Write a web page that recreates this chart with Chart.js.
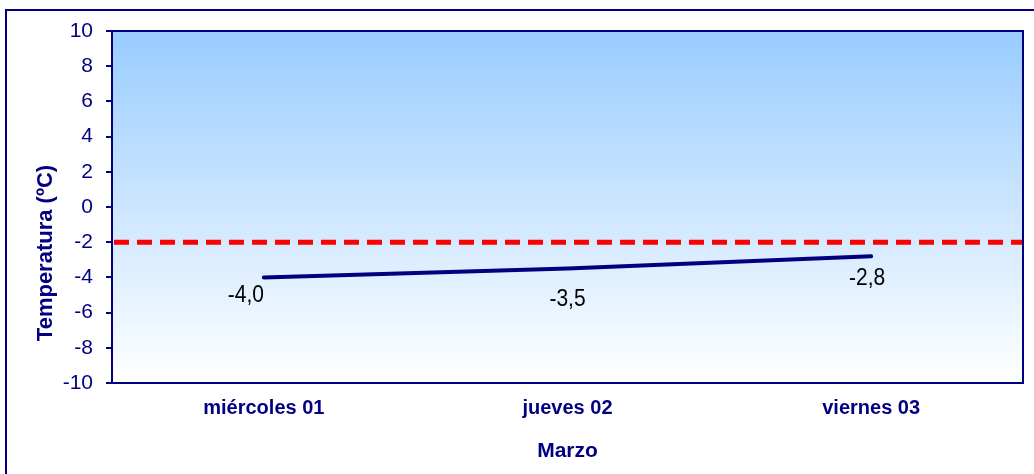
<!DOCTYPE html>
<html>
<head>
<meta charset="utf-8">
<script src="https://cdn.jsdelivr.net/npm/chart.js@4"></script>
<style>
  body { margin: 0; background: #fff; }
</style>
</head>
<body>
<canvas id="myChart" width="1034" height="474"></canvas>
<script>
    "use strict";

    // data
    const days = ['miércoles 01', 'jueves 02', 'viernes 03'];
    const temps = [-4.0, -3.5, -2.8];
    const yMin = -10;
    const yMax = 10;
    const yStep = 2;
    const threshold = -2;
    const yTitle = 'Temperatura (ºC)';

    const navy = '#000080';
    const fam = '"Liberation Sans", Arial, sans-serif';

    // background gradient, outer frame, threshold line, plot border, labels
    const decor = {
        id: 'decor',
        beforeDraw(chart) {
            const {ctx, chartArea: a} = chart;
            ctx.save();
            let g = ctx.createLinearGradient(0, a.top, 0, a.bottom);
            g.addColorStop(0, '#99ccff');
            g.addColorStop(1, '#ffffff');
            ctx.fillStyle = g;
            ctx.fillRect(a.left, a.top, a.right - a.left, a.bottom - a.top);
            // outer frame (runs off right and bottom edge)
            ctx.strokeStyle = navy;
            ctx.lineWidth = 2;
            ctx.beginPath();
            ctx.moveTo(6, chart.height + 5);
            ctx.lineTo(6, 10);
            ctx.lineTo(chart.width + 5, 10);
            ctx.stroke();

            // y axis title, sits a bit below the middle like the original
            ctx.translate(46, 253);
            ctx.rotate(-Math.PI / 2);
            ctx.fillStyle = navy;
            ctx.font = 'bold 22px ' + fam;
            ctx.textAlign = 'center';
            ctx.textBaseline = 'middle';
            ctx.fillText(yTitle, 0, 0);
            ctx.restore();
        },
        beforeDatasetsDraw(chart) {
            const {ctx, chartArea: a} = chart;
            const y = chart.scales.y.getPixelForValue(threshold);
            ctx.save();
            ctx.strokeStyle = '#ff0000';
            ctx.lineWidth = 5;
            ctx.setLineDash([15, 8]);
            ctx.beginPath();
            ctx.moveTo(a.left + 2, y);
            ctx.lineTo(a.right - 1, y);
            ctx.stroke();
            ctx.restore();
        },
        afterDatasetsDraw(chart) {
            const {ctx, chartArea: a} = chart;
            ctx.save();
            ctx.strokeStyle = navy;
            ctx.lineWidth = 2;
            ctx.strokeRect(a.left, a.top, a.right - a.left, a.bottom - a.top);

            // value labels, Excel style "-4,0"
            const offs = [[-18, 18], [0, 31], [-4, 22]];
            ctx.fillStyle = '#000';
            ctx.font = '21px ' + fam;
            ctx.textAlign = 'center';
            ctx.textBaseline = 'middle';
            chart.getDatasetMeta(0).data.forEach(function (pt, i) {
                const txt = temps[i].toFixed(1).replace('.', ',');
                ctx.save();
                ctx.translate(pt.x + offs[i][0], pt.y + offs[i][1]);
                ctx.scale(1, 1.15);
                ctx.fillText(txt, 0, 0);
                ctx.restore();
            });
            ctx.restore();
        }
    };

    let ctx = document.getElementById('myChart').getContext('2d');
    let chart = new Chart(ctx, {
        type: 'line',
        data: {
            labels: days,
            datasets: [
                {
                    label: 'Temperatura',
                    data: temps,
                    borderColor: navy,
                    borderWidth: 4,
                    borderCapStyle: 'round',
                    tension: 0,
                    pointRadius: 0,
                    fill: false
                }
            ]
        },
        options: {
            responsive: false,
            animation: false,
            layout: {
                padding: {left: 0, top: 31, right: 11, bottom: 0}
            },
            plugins: {
                legend: {display: false},
                tooltip: {enabled: false}
            },
            scales: {
                x: {
                    offset: true,
                    border: {display: false},
                    grid: {display: false, drawTicks: false},
                    ticks: {
                        color: navy,
                        padding: 13,
                        maxRotation: 0,
                        font: {family: fam, size: 20, weight: 'bold'}
                    },
                    title: {
                        display: true,
                        text: 'Marzo',
                        color: navy,
                        padding: {top: 0, bottom: 10},
                        font: {family: fam, size: 21, weight: 'bold'}
                    },
                    afterFit: function (scale) { scale.height = 474 - 383; }
                },
                y: {
                    min: yMin,
                    max: yMax,
                    border: {display: false},
                    grid: {
                        drawOnChartArea: false,
                        drawTicks: true,
                        tickLength: 6,
                        color: navy,
                        lineWidth: 2
                    },
                    ticks: {
                        stepSize: yStep,
                        color: navy,
                        padding: 13,
                        font: {family: fam, size: 21}
                    },
                    afterFit: function (scale) { scale.width = 112; }
                }
            }
        },
        plugins: [decor]
    });
</script>
</body>
</html>
